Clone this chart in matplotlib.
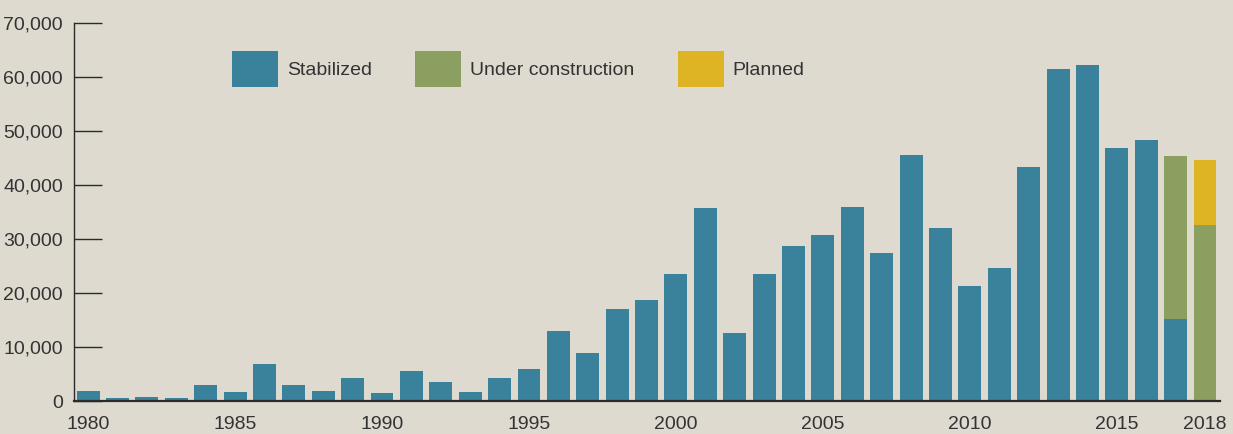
import matplotlib
matplotlib.use("Agg")
import matplotlib.pyplot as plt
from matplotlib.patches import Patch
from matplotlib.ticker import FuncFormatter

plt.rcParams['font.family'] = ['Liberation Sans', 'DejaVu Sans']

# Multifamily units by year and status
years = list(range(1980, 2019))
stabilized = [1900, 600, 800, 600, 3000, 1700, 6900, 3000, 1900, 4300,
              1500, 5600, 3600, 1700, 4300, 6000, 13000, 8900, 17100, 18700,
              23500, 35800, 12600, 23500, 28700, 30800, 35900, 27400, 45600, 32100,
              21300, 24600, 43300, 61500, 62200, 46800, 48300, 15200, 0]
under_construction = [0] * 37 + [30200, 32600]
planned = [0] * 38 + [12000]

tick_years = [1980, 1985, 1990, 1995, 2000, 2005, 2010, 2015, 2018]
y_ticks = [0, 10000, 20000, 30000, 40000, 50000, 60000, 70000]

BG = '#DEDAD0'
C_STAB = '#3A829B'
C_UC = '#8BA060'
C_PLAN = '#DEB425'
INK = '#2b2b2b'
TXT = '#333333'

fig = plt.figure(figsize=(12.33, 4.34), dpi=100, facecolor=BG)
ax = fig.add_axes([74 / 1233, 1 - 401 / 434, 1146 / 1233, 378 / 434])
ax.set_facecolor(BG)

w = 0.78
ax.bar(years, stabilized, width=w, color=C_STAB, linewidth=0)
ax.bar(years, under_construction, width=w, bottom=stabilized, color=C_UC, linewidth=0)
base2 = [s + u for s, u in zip(stabilized, under_construction)]
ax.bar(years, planned, width=w, bottom=base2, color=C_PLAN, linewidth=0)

ax.set_xlim(1979.52, 2018.51)
ax.set_ylim(0, 70000)

for s in ('top', 'right'):
    ax.spines[s].set_visible(False)
ax.spines['left'].set_color(INK)
ax.spines['left'].set_linewidth(1.0)
ax.spines['bottom'].set_color(INK)
ax.spines['bottom'].set_linewidth(1.6)

ax.set_yticks(y_ticks)
ax.yaxis.set_major_formatter(FuncFormatter(lambda v, p: f'{int(v):,}'))
ax.tick_params(axis='y', direction='in', length=20, width=1.0, color=INK,
               pad=8, labelsize=14, labelcolor=TXT)
ax.set_xticks(tick_years)
ax.set_xticklabels([str(y) for y in tick_years])
ax.tick_params(axis='x', length=0, pad=11, labelsize=14, labelcolor=TXT)

handles = [Patch(facecolor=C_STAB, label='Stabilized'),
           Patch(facecolor=C_UC, label='Under construction'),
           Patch(facecolor=C_PLAN, label='Planned')]
fig.legend(handles=handles, loc='upper left', ncol=3, frameon=False,
           bbox_to_anchor=(232 / 1233, 1 - 51 / 434), bbox_transform=fig.transFigure,
           borderaxespad=0, borderpad=0, fontsize=14,
           handlelength=2.37, handleheight=2.47, handletextpad=0.46,
           columnspacing=2.22, labelcolor=TXT)

fig.savefig('out.png', dpi=100, facecolor=BG)
